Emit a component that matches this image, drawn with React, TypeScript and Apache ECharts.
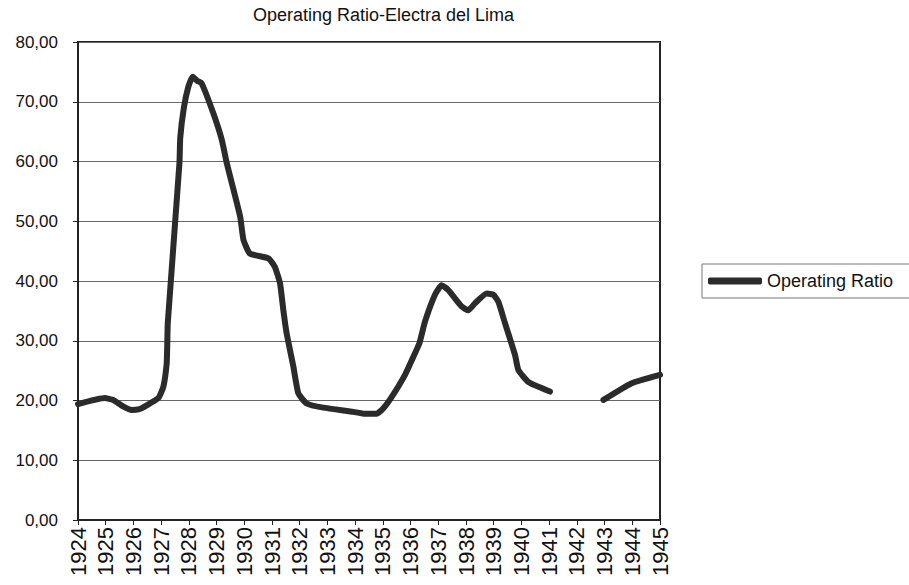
import React, { useEffect, useRef } from "react";
import * as echarts from "echarts";

const TITLE = "Operating Ratio-Electra del Lima";
const SERIES_NAME = "Operating Ratio";

// Year positions (fractional years) of the plotted points
const years: number[] = [
  1924.0, 1924.97, 1925.27, 1925.63, 1925.94, 1926.18, 1926.48, 1926.9,
  1927.08, 1927.2, 1927.22, 1927.24, 1927.66, 1927.69, 1927.82, 1927.98,
  1928.14, 1928.3, 1928.46, 1928.88, 1929.19, 1929.37, 1929.85, 1929.97,
  1930.2, 1930.87, 1931.1, 1931.29, 1931.41, 1931.53, 1931.77, 1931.95,
  1932.25, 1932.85, 1933.94, 1934.3, 1934.78, 1935.02, 1935.32, 1935.8,
  1936.1, 1936.32, 1936.52, 1936.88, 1937.12, 1937.36, 1937.85, 1938.08,
  1938.33, 1938.75, 1938.99, 1939.17, 1939.41, 1939.77, 1939.89, 1940.25,
  1941.03, 1942.0, 1942.96, 1943.98, 1945.0,
];

// Operating ratio values (null = no data)
const ratio: (number | null)[] = [
  19.4, 20.4, 20.1, 19.0, 18.4, 18.5, 19.2, 20.4,
  22.3, 26.2, 29.3, 33.0, 59.7, 64.0, 69.0, 72.5,
  74.2, 73.5, 73.1, 68.1, 63.6, 59.7, 50.8, 46.9,
  44.6, 43.8, 42.4, 39.6, 35.1, 31.2, 25.7, 21.2,
  19.5, 18.8, 18.1, 17.8, 17.8, 18.7, 20.6, 24.3,
  27.3, 29.6, 33.2, 37.7, 39.3, 38.5, 35.7, 35.1,
  36.3, 37.9, 37.7, 36.5, 32.9, 27.6, 25.1, 23.1,
  21.5, null, 20.1, 22.9, 24.3,
];

const X_MIN = 1924;
const X_MAX = 1945;
const Y_MIN = 0;
const Y_MAX = 80;
const Y_STEP = 10;

const FONT = "'Liberation Sans', Arial, sans-serif";

export default function App() {
  const ref = useRef<HTMLDivElement>(null);

  useEffect(() => {
    if (!ref.current) return;
    const chart = echarts.init(ref.current, undefined, { renderer: "svg" });
    const data = years.map((y, i) => [y, ratio[i] === null ? "-" : ratio[i]]);
    chart.setOption({
      animation: false,
      backgroundColor: "#ffffff",
      title: {
        text: TITLE,
        left: 253,
        top: 6,
        padding: 0,
        textStyle: {
          fontFamily: FONT,
          fontSize: 18,
          fontWeight: "normal",
          color: "#111",
        },
      },
      legend: {
        data: [SERIES_NAME],
        left: 702,
        top: 264,
        orient: "vertical",
        padding: [8, 17, 8, 6],
        borderColor: "#777",
        borderWidth: 1,
        itemWidth: 54,
        itemHeight: 7,
        itemGap: 5,
        icon: "roundRect",
        textStyle: { fontFamily: FONT, fontSize: 18, color: "#111" },
      },
      grid: {
        left: 78,
        right: 249,
        top: 42,
        bottom: 65,
        show: true,
        borderColor: "#222",
        borderWidth: 2,
        containLabel: false,
      },
      xAxis: {
        type: "value",
        min: X_MIN,
        max: X_MAX,
        interval: 1,
        axisLine: { show: true, lineStyle: { color: "#222", width: 2 } },
        axisTick: { show: true, length: 5, lineStyle: { color: "#222", width: 1 } },
        splitLine: { show: false },
        axisLabel: {
          rotate: 90,
          margin: 7,
          fontFamily: FONT,
          fontSize: 22,
          color: "#111",
          formatter: (v: number) => String(Math.round(v)),
        },
      },
      yAxis: {
        type: "value",
        min: Y_MIN,
        max: Y_MAX,
        interval: Y_STEP,
        axisLine: { show: true, lineStyle: { color: "#222", width: 2 } },
        axisTick: { show: true, length: 5, lineStyle: { color: "#222", width: 1 } },
        splitLine: { show: true, lineStyle: { color: "#666", width: 1 } },
        axisLabel: {
          margin: 20,
          fontFamily: FONT,
          fontSize: 17,
          color: "#111",
          formatter: (v: number) => v.toFixed(2).replace(".", ","),
        },
      },
      series: [
        {
          name: SERIES_NAME,
          type: "line",
          data,
          connectNulls: false,
          showSymbol: false,
          symbol: "none",
          smooth: 0.15,
          color: "#2b2b2b",
          lineStyle: { color: "#2b2b2b", width: 6, cap: "round", join: "round" },
        },
      ],
    });
    return () => chart.dispose();
  }, []);

  return (
    <div
      ref={ref}
      style={{ position: "fixed", left: 0, top: 0, width: 909, height: 585, background: "#fff" }}
    />
  );
}
